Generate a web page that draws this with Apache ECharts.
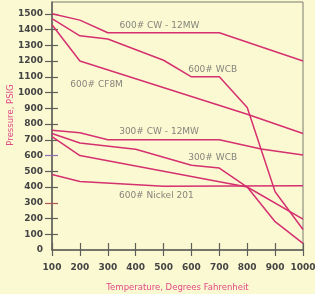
<!DOCTYPE html>
<html>
<head>
<meta charset="utf-8">
<script src="https://cdn.jsdelivr.net/npm/echarts@6/dist/echarts.min.js"></script>
<style>
html,body{margin:0;padding:0;background:#fbf9d2;}
#c{width:315px;height:294px;}
</style>
</head>
<body>
<div id="c"></div>
<script>
// Temperature (°F) tick values and pressure (PSIG) tick values
var xTicks = [100, 200, 300, 400, 500, 600, 700, 800, 900, 1000];
var yTicks = [0, 100, 200, 300, 400, 500, 600, 700, 800, 900, 1000, 1100, 1200, 1300, 1400, 1500];
var yTicksGray = [100, 200, 400, 500, 700, 800, 900, 1000, 1100, 1200, 1300, 1400, 1500];
var yTickPurple = [600];
var yTickRed = [300];

// Series: [temperature, pressure]
var cw600 = [[100, 1500], [200, 1460], [300, 1380], [700, 1380], [1000, 1200]];
var wcb600 = [[100, 1470], [200, 1360], [300, 1340], [500, 1205], [600, 1100], [700, 1100], [800, 905], [900, 370], [1000, 130]];
var cf8m600 = [[100, 1430], [200, 1200], [800, 862], [1000, 740]];
var cw300 = [[100, 760], [200, 745], [300, 700], [700, 700], [850, 642], [1000, 603]];
var wcb300 = [[100, 740], [200, 680], [400, 640], [600, 538], [700, 520], [800, 400], [900, 180], [1000, 42]];
var cf8m300 = [[100, 720], [200, 600], [800, 400], [1000, 196]];
var nickel600 = [[100, 480], [200, 435], [500, 405], [1000, 408]];

// Annotation texts anchored in data units
var labelTexts = ['600# CW - 12MW', '600# WCB', '600# CF8M', '300# CW - 12MW', '300# WCB', '600# Nickel 201'];
var labelAt = [[485, 1425], [676, 1146], [260, 1051], [484, 753], [676, 589], [474, 348]];

var lineColor = '#d5306f';
function lineSeries(name, data) {
  return {
    name: name, type: 'line', data: data, symbol: 'none',
    lineStyle: {color: lineColor, width: 1.5}, silent: true, animation: false
  };
}

var axisColor = '#5f5f5a';
function plain(v) { return String(v); }
var tickLabelStyle = {color: '#444', fontWeight: 'bold', fontSize: 9, fontFamily: 'DejaVu Sans', formatter: plain};

function tickOnlyY(values, color, inside, len) {
  return {
    type: 'value', min: 0, max: 1575, interval: 100, position: 'left',
    axisLine: {show: false},
    axisTick: {show: true, inside: inside, length: len, customValues: values, lineStyle: {color: color, width: 1.2}},
    axisLabel: {show: false}, splitLine: {show: false}
  };
}

var chart = echarts.init(document.getElementById('c'), null, {renderer: 'canvas'});
chart.setOption({
  backgroundColor: '#fbf9d2',
  animation: false,
  grid: {left: 52, right: 12, top: 2, bottom: 44, containLabel: false, outerBoundsMode: 'none',
         show: true, borderColor: '#7a7a72', borderWidth: 1, backgroundColor: 'transparent'},
  xAxis: [{
    type: 'value', min: 100, max: 1000, interval: 100, position: 'bottom',
    axisLine: {show: true, lineStyle: {color: axisColor, width: 1.5}},
    axisTick: {show: true, inside: false, length: 6, lineStyle: {color: axisColor, width: 1.2}},
    axisLabel: Object.assign({margin: 13, customValues: xTicks}, tickLabelStyle),
    splitLine: {show: false},
    name: 'Temperature, Degrees Fahrenheit', nameLocation: 'middle', nameGap: 33, nameMoveOverlap: false,
    nameTextStyle: {color: '#e04a86', fontSize: 8.5, fontFamily: 'DejaVu Sans'}
  }, {
    type: 'value', min: 100, max: 1000, interval: 100, position: 'bottom',
    axisLine: {show: false},
    axisTick: {show: true, inside: true, length: 7, lineStyle: {color: axisColor, width: 1.2}},
    axisLabel: {show: false}, splitLine: {show: false}
  }],
  yAxis: [{
    type: 'value', min: 0, max: 1575, interval: 100, position: 'left',
    axisLine: {show: true, lineStyle: {color: axisColor, width: 1.5}},
    axisTick: {show: true, inside: false, length: 7, customValues: yTicksGray, lineStyle: {color: axisColor, width: 1.2}},
    axisLabel: Object.assign({margin: 9, customValues: yTicks}, tickLabelStyle),
    splitLine: {show: false},
    name: 'Pressure, PSIG', nameLocation: 'middle', nameGap: 37, nameMoveOverlap: false,
    nameTextStyle: {color: '#e04a86', fontSize: 8.5, fontFamily: 'DejaVu Sans', padding: [0, 0, 0, 22]}
  },
    tickOnlyY(yTicksGray, axisColor, true, 6),
    tickOnlyY(yTickPurple, '#8f6fb8', false, 7),
    tickOnlyY(yTickPurple, '#8f6fb8', true, 6),
    tickOnlyY(yTickRed, '#b0585a', false, 7),
    tickOnlyY(yTickRed, '#b0585a', true, 6)
  ],
  series: [
    lineSeries('600# CW - 12MW', cw600),
    lineSeries('600# WCB', wcb600),
    lineSeries('600# CF8M', cf8m600),
    lineSeries('300# CW - 12MW', cw300),
    lineSeries('300# WCB', wcb300),
    lineSeries('300# CF8M', cf8m300),
    lineSeries('600# Nickel 201', nickel600),
    {
      type: 'scatter', symbolSize: 0, silent: true, animation: false,
      data: labelTexts.map(function (t, i) { return {name: t, value: labelAt[i]}; }),
      label: {show: true, position: 'inside', formatter: '{b}', color: '#666', fontSize: 9, fontFamily: 'DejaVu Sans'}
    }
  ]
});
</script>
</body>
</html>
